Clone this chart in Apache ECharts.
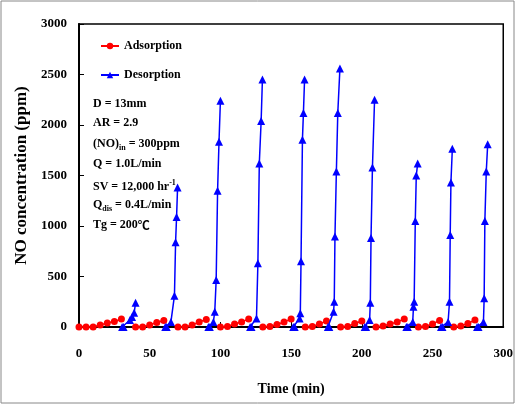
<!DOCTYPE html>
<html>
<head>
<meta charset="utf-8">
<script src="https://cdn.jsdelivr.net/npm/echarts@6/dist/echarts.min.js"></script>
<style>
html,body{margin:0;padding:0;background:#fff;}
#c{width:516px;height:405px;}
</style>
</head>
<body>
<div id="c"></div>
<script>
// ---- data (time in min, NO in ppm), one inner array per cycle ----
const adsorptionTimes = [
  [0,5,10,15,20,25,30],
  [40,45,50,55,60],
  [70,75,80,85,90],
  [100,105,110,115,120],
  [130,135,140,145,150],
  [160,165,170,175],
  [185,190,195,200],
  [210,215,220,225,230],
  [240,245,250,255],
  [265,270,275,280]
];
const adsorptionValues = [
  [0,0,0,20,40,55,80],
  [0,0,20,45,65],
  [0,0,20,50,75],
  [0,5,30,50,80],
  [0,5,25,50,80],
  [0,5,30,60],
  [0,5,35,60],
  [0,10,30,50,80],
  [0,5,30,65],
  [0,10,35,70]
];
const desorptionTimes = [
  [30.5,31.5,36,37.5,39,40],
  [61,62,65,67.5,68.3,69,69.7],
  [91.5,92.5,95,96,97,98,99,100],
  [121,122,125.5,126.5,127.5,128.8,129.7],
  [151.5,152.5,156,156.5,157,158,158.7,159.5],
  [176,177,180,180.5,181,182,183,184.5],
  [202,203,205.5,206,206.5,207.5,209],
  [231.5,232.5,236,236.5,237,237.8,238.5,239.5],
  [256,257,261,262,262.5,263,264],
  [281.5,282.5,286,286.5,287,288,289]
];
const desorptionValues = [
  [0,0,70,100,140,240],
  [0,0,50,310,840,1090,1380],
  [0,0,50,150,465,1350,1835,2240],
  [0,0,85,630,1620,2040,2450],
  [0,0,85,135,650,1855,2120,2450],
  [0,0,150,250,895,1540,2120,2560],
  [0,0,70,240,880,1580,2250],
  [0,0,50,200,250,1050,1500,1620],
  [0,0,50,250,910,1430,1765],
  [0,0,50,285,1050,1540,1810]
];
const xTicks = [0,50,100,150,200,250,300];
const yTicks = [0,500,1000,1500,2000,2500,3000];

function build(times, values){
  const out = [];
  times.forEach((arr, c) => {
    if (c > 0) out.push([arr[0], '-']);
    arr.forEach((t, i) => out.push([t, values[c][i]]));
  });
  return out;
}

const serif = '"Liberation Serif","Times New Roman",serif';
const chart = echarts.init(document.getElementById('c'), null, {renderer:'canvas'});

const textLines = [
  {y:106, text:'{a|D = 13mm}'},
  {y:125, text:'{a|AR = 2.9}'},
  {y:146, text:'{a|(NO)}{s|in}{a| = 300ppm}'},
  {y:166, text:'{a|Q = 1.0L/min}'},
  {y:187, text:'{a|SV = 12,000 hr}{u|-1}'},
  {y:207, text:'{a|Q}{s|dis}{a| = 0.4L/min}'},
  {y:227, text:'{a|Tg = 200}{c|℃}'}
];
const rich = {
  a:{fontFamily:serif, fontWeight:'bold', fontSize:12, fill:'#000', lineHeight:16, verticalAlign:'middle'},
  s:{fontFamily:serif, fontWeight:'bold', fontSize:8, fill:'#000', lineHeight:16, verticalAlign:'bottom'},
  u:{fontFamily:serif, fontWeight:'bold', fontSize:8, fill:'#000', lineHeight:16, verticalAlign:'top'},
  c:{fontFamily:'"Noto Sans CJK SC",sans-serif', fontWeight:'bold', fontSize:12, fill:'#000', lineHeight:16, verticalAlign:'middle'}
};

chart.setOption({
  animation:false,
  backgroundColor:'#fff',
  grid:{left:79, top:24, width:426, height:303, show:true, borderColor:'#000', borderWidth:1.5, backgroundColor:'transparent'},
  legend:{
    orient:'vertical', left:95, top:35, itemGap:17, itemWidth:18, itemHeight:8,
    textStyle:{fontFamily:serif, fontWeight:'bold', fontSize:12, color:'#000'},
    data:['Adsorption','Desorption']
  },
  xAxis:{
    type:'value', min:0, max:300, interval:50,
    name:'Time (min)', nameLocation:'middle', nameGap:55,
    nameTextStyle:{fontFamily:serif, fontWeight:'bold', fontSize:14, color:'#000'},
    axisLine:{show:true, onZero:false, lineStyle:{color:'#000', width:2}},
    axisTick:{show:true, inside:true, length:5, lineStyle:{color:'#000'}},
    axisLabel:{margin:20, fontFamily:serif, fontWeight:'bold', fontSize:13, color:'#000', formatter:v => String(v)},
    splitLine:{show:false}
  },
  yAxis:{
    type:'value', min:0, max:3000, interval:500,
    name:'NO concentration (ppm)', nameLocation:'middle', nameGap:48,
    nameTextStyle:{fontFamily:serif, fontWeight:'bold', fontSize:17, color:'#000'},
    axisLine:{show:true, onZero:false, lineStyle:{color:'#000', width:2}},
    axisTick:{show:true, inside:true, length:5, lineStyle:{color:'#000'}},
    axisLabel:{margin:12, fontFamily:serif, fontWeight:'bold', fontSize:13, color:'#000', formatter:v => String(v)},
    splitLine:{show:false}
  },
  series:[
    {
      name:'Adsorption', type:'line', data:build(adsorptionTimes, adsorptionValues),
      symbol:'circle', symbolSize:7, connectNulls:false,
      itemStyle:{color:'#ff0000'}, lineStyle:{color:'#ff0000', width:1.5}, z:2
    },
    {
      name:'Desorption', type:'line', data:build(desorptionTimes, desorptionValues),
      symbol:'triangle', symbolSize:8, connectNulls:false,
      itemStyle:{color:'#0000ff'}, lineStyle:{color:'#0000ff', width:1.5}, z:3
    }
  ],
  graphic: textLines.map(l => ({
    type:'text', left:93, top:l.y-8, z:10,
    style:{text:l.text, rich:rich}
  })).concat([
    {type:'rect', shape:{x:1, y:1, width:513, height:402}, style:{fill:'none', stroke:'#888', lineWidth:1}, z:0}
  ])
});
</script>
</body>
</html>
